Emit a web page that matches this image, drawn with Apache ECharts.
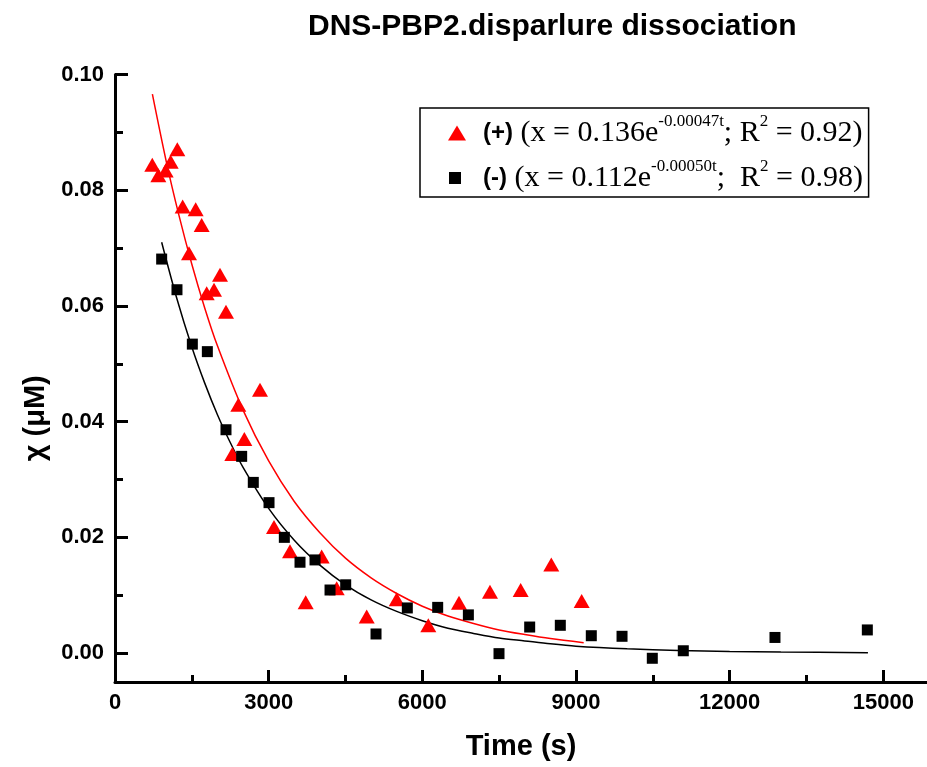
<!DOCTYPE html>
<html>
<head>
<meta charset="utf-8">
<script src="https://cdn.jsdelivr.net/npm/echarts@6/dist/echarts.min.js"></script>
<style>
html,body{margin:0;padding:0;background:#fff;}
#chart{width:927px;height:767px;}
</style>
</head>
<body>
<div id="chart"></div>
<script>
// ---- data ----
const titleText = 'DNS-PBP2.disparlure dissociation';
const xTickLabels = [0, 3000, 6000, 9000, 12000, 15000];
const xMinorTicks = [1500, 4500, 7500, 10500, 13500];
const yTickLabels = [0, 0.02, 0.04, 0.06, 0.08, 0.10];
const yMinorTicks = [0.01, 0.03, 0.05, 0.07, 0.09];

// (+) red triangles
const plusTime = [728, 846, 989, 1087, 1217, 1321, 1445, 1575, 1692, 1790, 1933, 2050, 2167, 2290, 2408, 2525, 2831, 3104, 3417, 3723, 4035, 4328, 4914, 5500, 6117, 6716, 7321, 7920, 8518, 9111];
const plusChi  = [0.0844, 0.0826, 0.0834, 0.0849, 0.0871, 0.0772, 0.0691, 0.0767, 0.0740, 0.0622, 0.0628, 0.0654, 0.0590, 0.0344, 0.0429, 0.0370, 0.0455, 0.0218, 0.0176, 0.0088, 0.0167, 0.0112, 0.0063, 0.0093, 0.0048, 0.0087, 0.0106, 0.0109, 0.0153, 0.0090];

// (-) black squares
const minusTime = [911, 1210, 1510, 1803, 2167, 2473, 2700, 3007, 3306, 3612, 3905, 4198, 4504, 5096, 5707, 6300, 6899, 7497, 8096, 8694, 9299, 9899, 10490, 11095, 12885, 14688];
const minusChi  = [0.0681, 0.0628, 0.0534, 0.0521, 0.0386, 0.0340, 0.0295, 0.0260, 0.0200, 0.0157, 0.0161, 0.0109, 0.0118, 0.0033, 0.0078, 0.0079, 0.0066, -0.0001, 0.0045, 0.0048, 0.0030, 0.0029, -0.0009, 0.0004, 0.0027, 0.0040];

// fitted curves
const plusFitTime = [730, 1000, 1250, 1500, 1750, 2000, 2500, 3000, 3500, 4000, 4500, 5000, 5500, 6000, 6500, 7000, 7500, 8000, 8500, 9150];
const plusFitChi  = [0.0966, 0.0850, 0.0756, 0.0672, 0.0597, 0.0531, 0.0420, 0.0332, 0.0262, 0.0208, 0.0164, 0.0130, 0.0103, 0.0081, 0.0064, 0.0051, 0.0040, 0.0032, 0.0025, 0.0018];
const minusFitTime = [911, 1200, 1500, 1750, 2000, 2250, 2500, 3000, 3500, 4000, 4500, 5000, 5500, 6000, 6500, 7000, 7500, 8000, 8500, 9000, 10000, 11000, 12000, 13000, 14700];
const minusFitChi  = [0.0710, 0.0615, 0.0529, 0.0467, 0.0412, 0.0364, 0.0321, 0.0250, 0.0195, 0.0152, 0.0118, 0.0092, 0.0072, 0.0056, 0.0043, 0.0034, 0.0026, 0.0021, 0.0016, 0.0012, 0.00075, 0.00046, 0.00028, 0.00017, 0.00007];

const zip = (a, b) => a.map((v, i) => [v, b[i]]);

const SANS = '"Liberation Sans", Arial, Helvetica, sans-serif';
const SERIF = '"Liberation Serif", "Times New Roman", serif';

const xMin = 0, xMax = 15853, yMin = -0.005, yMax = 0.10;
const gridRect = {left: 115, right: 0, top: 74.5, bottom: 85};

const richStyles = {
  b: {fontFamily: SANS, fontWeight: 'bold', fontSize: 24, color: '#000', lineHeight: 40},
  t: {fontFamily: SERIF, fontSize: 30, color: '#000', lineHeight: 40},
  s: {fontFamily: SERIF, fontSize: 17, color: '#000', lineHeight: 22, verticalAlign: 'top'},
  s2: {fontFamily: SERIF, fontSize: 17, color: '#000', lineHeight: 24, verticalAlign: 'top'},
  p1: {width: 12, lineHeight: 40},
  p2: {width: 17, lineHeight: 40}
};

const chart = echarts.init(document.getElementById('chart'), null, {renderer: 'canvas'});
chart.setOption({
  animation: false,
  backgroundColor: '#fff',
  title: {
    text: titleText,
    left: 303, top: 7,
    textStyle: {fontFamily: SANS, fontWeight: 'bold', fontSize: 30, color: '#000'}
  },
  legend: [
    {
      data: [{name: '(+)', icon: 'triangle'}],
      left: 420, top: 108,
      orient: 'vertical',
      padding: [5, 6, 49, 28],
      itemWidth: 18, itemHeight: 15,
      borderColor: '#000', borderWidth: 1.5,
      selectedMode: false,
      formatter: () => '{p1|}{b|(+)}{t| (x = 0.136e}{s|-0.00047t}{t|; R}{s2|2}{t| = 0.92)}',
      textStyle: {rich: richStyles}
    },
    {
      data: [{name: '(-)', icon: 'rect'}],
      left: 449, top: 158,
      orient: 'vertical',
      padding: 0,
      itemWidth: 12, itemHeight: 12,
      selectedMode: false,
      formatter: () => '{p2|}{b|(-)}{t| (x = 0.112e}{s|-0.00050t}{t|;  R}{s2|2}{t| = 0.98)}',
      textStyle: {rich: richStyles}
    }
  ],
  grid: [
    Object.assign({}, gridRect),
    Object.assign({}, gridRect)
  ],
  xAxis: [
    {
      type: 'value', gridIndex: 0, min: xMin, max: xMax,
      name: 'Time (s)', nameLocation: 'middle', nameGap: 50,
      nameTextStyle: {fontFamily: SANS, fontWeight: 'bold', fontSize: 29, color: '#000'},
      axisLine: {show: true, onZero: false, lineStyle: {color: '#000', width: 3}},
      axisTick: {show: true, inside: true, length: 12, lineStyle: {color: '#000', width: 3}, customValues: xTickLabels},
      axisLabel: {show: true, margin: 10, customValues: xTickLabels, fontFamily: SANS, fontWeight: 'bold', fontSize: 22, color: '#000', formatter: v => String(v)},
      splitLine: {show: false}
    },
    {
      type: 'value', gridIndex: 1, min: xMin, max: xMax,
      axisLine: {show: false, onZero: false},
      axisTick: {show: true, inside: true, length: 7, lineStyle: {color: '#000', width: 3}, customValues: xMinorTicks},
      axisLabel: {show: false},
      splitLine: {show: false}
    }
  ],
  yAxis: [
    {
      type: 'value', gridIndex: 0, min: yMin, max: yMax,
      name: 'χ (μM)', nameLocation: 'middle', nameGap: 62, nameRotate: 90,
      nameTextStyle: {fontFamily: SANS, fontWeight: 'bold', fontSize: 29, color: '#000', padding: [0, 80, 0, 0]},
      axisLine: {show: true, onZero: false, lineStyle: {color: '#000', width: 3}},
      axisTick: {show: true, inside: true, length: 13, lineStyle: {color: '#000', width: 3}, customValues: yTickLabels},
      axisLabel: {show: true, margin: 11, customValues: yTickLabels, fontFamily: SANS, fontWeight: 'bold', fontSize: 22, color: '#000', formatter: v => v.toFixed(2)},
      splitLine: {show: false}
    },
    {
      type: 'value', gridIndex: 1, min: yMin, max: yMax,
      axisLine: {show: false, onZero: false},
      axisTick: {show: true, inside: true, length: 8, lineStyle: {color: '#000', width: 3}, customValues: yMinorTicks},
      axisLabel: {show: false},
      splitLine: {show: false}
    }
  ],
  series: [
    {
      name: 'fit+', type: 'line', xAxisIndex: 0, yAxisIndex: 0,
      data: zip(plusFitTime, plusFitChi), smooth: 0.3, showSymbol: false, symbol: 'none',
      lineStyle: {color: '#ff0000', width: 1.5}, silent: true, z: 2
    },
    {
      name: 'fit-', type: 'line', xAxisIndex: 0, yAxisIndex: 0,
      data: zip(minusFitTime, minusFitChi), smooth: 0.3, showSymbol: false, symbol: 'none',
      lineStyle: {color: '#000', width: 1.5}, silent: true, z: 2
    },
    {
      name: '(+)', type: 'scatter', xAxisIndex: 0, yAxisIndex: 0,
      data: zip(plusTime, plusChi), symbol: 'triangle', symbolSize: [16, 14],
      itemStyle: {color: '#ff0000', opacity: 1}, clip: false, z: 3
    },
    {
      name: '(-)', type: 'scatter', xAxisIndex: 0, yAxisIndex: 0,
      data: zip(minusTime, minusChi), symbol: 'rect', symbolSize: 11,
      itemStyle: {color: '#000', opacity: 1}, clip: false, z: 4
    }
  ]
});
</script>
</body>
</html>
